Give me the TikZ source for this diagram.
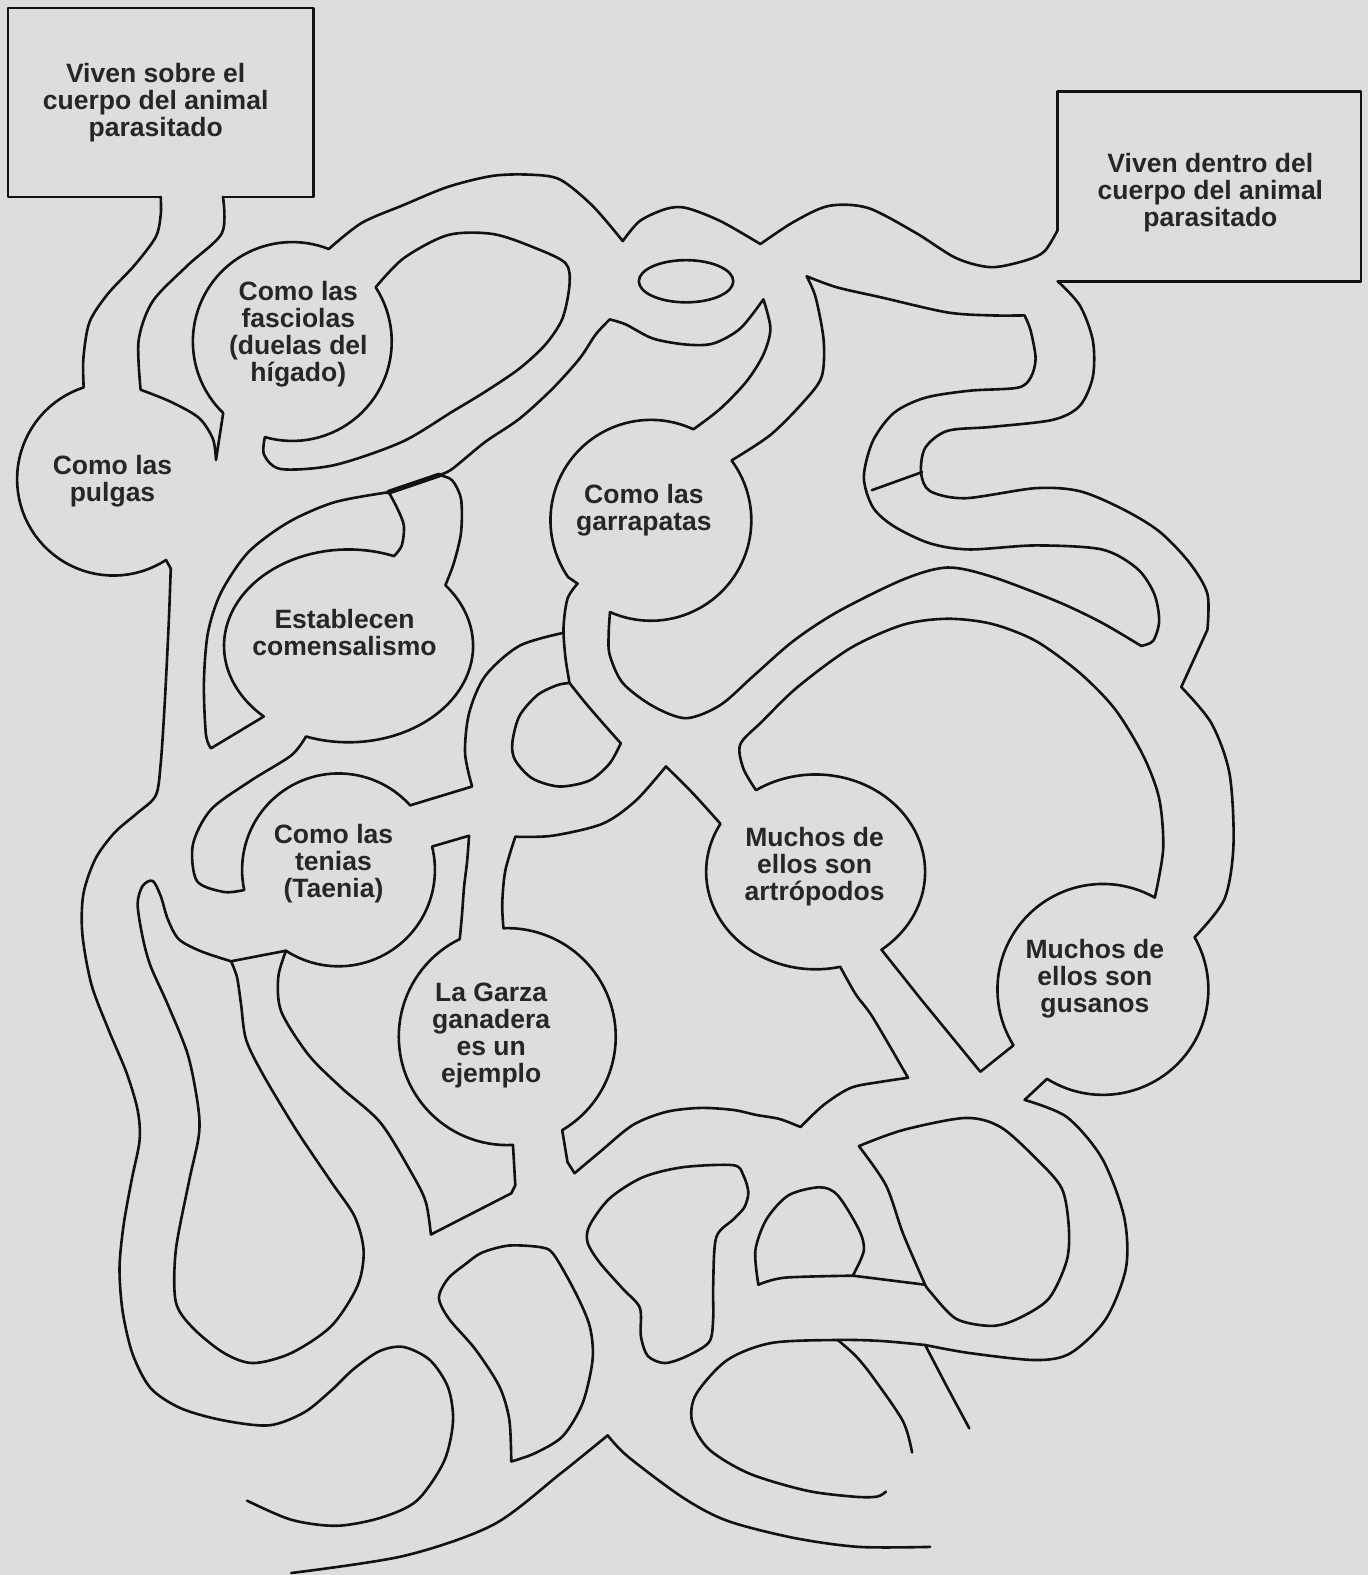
\documentclass[tikz,border=0pt]{standalone}
\usepackage{fontspec}
\setmainfont{Liberation Sans}
\usetikzlibrary{calc}
\definecolor{PaperClr}{RGB}{221,221,221}
\definecolor{InkClr}{RGB}{18,18,18}
\definecolor{TextClr}{RGB}{38,38,38}

\begin{document}
\begin{tikzpicture}[x=1pt,y=-1pt,
  wall/.style={line width=2.6pt,color=InkClr,line join=round,line cap=round},
  room/.style={font=\bfseries\fontsize{26.4}{27}\selectfont,align=center,text=TextClr,inner sep=0pt}]

\fill[PaperClr] (0,0) rectangle (1362,1568);
\useasboundingbox (0,0) rectangle (1362,1568);

\draw[wall] (160,196) -- (8,196) -- (8,8) -- (312,8) -- (312,196) -- (222,196);
\draw[wall] (1053,229) -- (1053,91) -- (1355,91) -- (1355,280) -- (1053,280);

\draw[wall] plot[smooth] coordinates {(160,196) (160,214) (155,236) (134,264) (107,293) (89,321) (83,357) (83.3,385.7)}
  -- plot[domain=252:57,samples=50,variable=\t] ({113+96*cos(\t)},{477+96*sin(\t)})
  -- (170,566)
  -- plot[smooth] coordinates {(170,566) (168,620) (164,700) (160,760) (155,792) (136,810) (114,829) (95,855) (83,890) (82,930) (91,980) (108,1025) (126,1068) (137,1105) (139,1135) (131,1175) (123,1220) (119,1262) (122,1305) (132,1348) (150,1382) (180,1402) (222,1414) (268,1419) (303,1406) (330,1384) (352,1363) (378,1345) (402,1341) (428,1354) (446,1381) (451,1415) (442,1455) (415,1494) (379,1511) (335,1519) (290,1513) (246,1494)};

\draw[wall] plot[smooth] coordinates {(222,196) (221,232) (187,264) (152,300) (138,339) (140,388)}
  -- plot[smooth] coordinates {(140,388) (170,400) (198,416) (212,437) (215,458)}
  -- (222.2,411.2)
  -- plot[domain=134:291.5,samples=50,variable=\t] ({291+99*cos(\t)},{340+99*sin(\t)})
  -- plot[smooth] coordinates {(327.3,247.9) (360,222) (402,204) (446,186) (491,175) (530,174) (558,179) (590,205) (620,240)}
  -- plot[smooth] coordinates {(620,240) (637,220) (663,208) (683,207) (717,220) (757,243)}
  -- plot[smooth] coordinates {(757,243) (790,221) (825,205) (864,207) (912,232) (952,257) (987,266) (1022,259) (1040,250) (1053,229)};

\draw[wall] plot[domain=-33:106,samples=40,variable=\t] ({291+99*cos(\t)},{340+99*sin(\t)})
  -- plot[smooth] coordinates {(263.7,435.2) (263,453) (280,467) (333,463) (400,440) (450,410) (483,390) (517,367) (543,343) (560,317) (567,283) (563,262) (533,247) (491,233) (446,234) (402,257) (374,286)};

\draw[wall] (683,280) ellipse [x radius=47, y radius=21];

\draw[wall] plot[smooth] coordinates {(690.3,427.4) (717,407) (743,380) (760,353) (767,327) (760,298)}
  -- plot[smooth] coordinates {(760,298) (737,327) (710,342) (683,343) (650,337) (623,323) (607,318)}
  -- plot[smooth] coordinates {(607,318) (593,333) (577,357) (550,387) (517,417) (483,440) (450,467) (437,473)};
\draw[wall,line width=5pt] (437,473) -- (387,490);

\draw[wall] plot[domain=295:145.6,samples=50,variable=\t] ({648+100*cos(\t)},{518+100*sin(\t)})
  -- (575,581)
  -- plot[smooth] coordinates {(575,581) (565,596) (561,625) (563,655) (567,680)}
  -- plot[smooth] coordinates {(567,680) (583,700) (602,722) (618,740)}
  -- plot[smooth] coordinates {(618,740) (607,760) (587,777) (557,783) (530,775) (513,757) (510,740) (517,713) (535,692) (555,682) (567,680)};

\draw[wall] plot[domain=-36.6:114,samples=50,variable=\t] ({648+100*cos(\t)},{518+100*sin(\t)})
  -- plot[smooth] coordinates {(607.3,609.4) (606,630) (607,652) (620,680) (650,703) (683,715) (717,702) (750,673) (790,638) (834,609) (899,577) (943,565) (987,574) (1053,599) (1097,620) (1136,643)}
  -- plot[smooth] coordinates {(1136,643) (1148,638) (1154,618) (1149,591) (1132,566) (1097,547) (1031,543) (965,547) (926,541) (890,524) (869,505) (860,475) (869,439) (890,411) (921,396) (965,389) (1013,386) (1026,376) (1031,357) (1026,329) (1020,314)}
  -- plot[smooth] coordinates {(1020,314) (987,314) (943,311) (877,296) (833,286) (803,275)}
  -- plot[smooth] coordinates {(803,275) (812,296) (820,339) (818,375) (800,400) (767,433) (728.3,458.4)};

\draw[wall] plot[smooth] coordinates {(1053,280) (1075,304) (1088,339) (1088,375) (1075,404) (1048,418) (987,425) (943,429) (921,446) (917,471) (926,489) (961,496) (1031,486) (1075,489) (1118,507) (1154,529) (1184,560) (1202,591) (1202,627)}
  -- (1176,684)
  -- plot[smooth] coordinates {(1176,684) (1206,720) (1224,770) (1228,841) (1219,895) (1189.3,933.1)}
  -- plot[domain=-29.6:122,samples=50,variable=\t] ({1098+105*cos(\t)},{985+105*sin(\t)})
  -- (1020,1095)
  -- plot[smooth] coordinates {(1020,1095) (1062,1112) (1097,1153) (1119,1211) (1121,1262) (1101,1313) (1066,1347) (1031,1354) (965,1347) (921,1339)}
  -- plot[smooth] coordinates {(921,1339) (877,1335) (834,1334) (768,1337) (724,1354) (693,1388) (689,1415) (706,1443) (746,1467) (803,1484) (850,1490) (873,1490) (882,1485)};

\draw[wall] (868,488) -- (918,470);
\draw[wall] plot[smooth] coordinates {(921,1339) (932,1360) (943,1381) (965,1422)};
\draw[wall] plot[smooth] coordinates {(834,1334) (852,1350) (869,1371) (899,1415) (908,1446)};

\draw[wall] plot[smooth] coordinates {(752.6,786.6) (740,765) (737,741) (759,718) (794,684) (847,645) (899,622) (943,616) (987,621) (1031,638) (1075,670) (1110,706) (1138,752) (1154,795) (1158,845) (1149.7,893.6)}
  -- plot[domain=299.5:148,samples=50,variable=\t] ({1098+105*cos(\t)},{985+105*sin(\t)})
  -- (976,1067) -- (917,995) -- (877.6,945.5)
  -- plot[domain=413:237,samples=60,variable=\t] ({812+109*cos(\t)},{868+97*sin(\t)});

\draw[wall] plot[domain=209.6:77,samples=50,variable=\t] ({812+109*cos(\t)},{868+97*sin(\t)})
  -- plot[smooth] coordinates {(836.5,962.5) (852,990) (869,1013) (904,1073)}
  -- plot[smooth] coordinates {(904,1073) (877,1077) (847,1083) (820,1100) (797,1122)}
  -- plot[smooth] coordinates {(797,1122) (776,1114) (753,1110) (730,1105) (697,1103) (663,1107) (630,1120) (597,1147) (572,1168)}
  -- (565,1157) -- (559.7,1125.1)
  -- plot[domain=59.6:-92,samples=50,variable=\t] ({505+108*cos(\t)},{1032+108*sin(\t)})
  -- plot[smooth] coordinates {(501.2,924.1) (500,900) (503,867) (513,833)}
  -- plot[smooth] coordinates {(513,833) (550,832) (600,820) (633,797) (663,763)}
  -- plot[smooth] coordinates {(663,763) (690,790) (717.2,820.1)};

\draw[wall] plot[domain=-14:123,samples=50,variable=\t] ({337+96*cos(\t)},{866+96*sin(\t)})
  -- plot[smooth] coordinates {(284.7,946.5) (277,973) (280,1007) (307,1050) (340,1083) (379,1118) (411,1170) (424,1197) (429,1229)}
  -- (509,1188) -- (513,1180) -- (510.7,1139.9)
  -- plot[domain=87:244,samples=50,variable=\t] ({505+108*cos(\t)},{1032+108*sin(\t)})
  -- plot[smooth] coordinates {(457.7,934.9) (460,910) (462,883) (465,858) (467,832)}
  -- (430.1,842.8);

\draw[wall] plot[smooth] coordinates {(437,473) (450,478) (459,497) (459,530) (452,560) (443.4,582.6)}
  -- plot[domain=-39:110,samples=50,variable=\t] ({347+124*cos(\t)},{643+96*sin(\t)})
  -- plot[smooth] coordinates {(304.6,733.2) (290,752) (250,777) (210,806) (192,841) (196,877) (223,888) (243.1,886)}
  -- plot[domain=168:318,samples=50,variable=\t] ({337+96*cos(\t)},{866+96*sin(\t)})
  -- (470,783)
  -- plot[smooth] coordinates {(470,783) (463,750) (467,710) (483,673) (517,643) (561,630)};

\draw[wall] plot[smooth] coordinates {(387,490) (395,505) (402,523) (400,543) (392.3,553.6)}
  -- plot[domain=291.4:132.9,samples=50,variable=\t] ({347+124*cos(\t)},{643+96*sin(\t)})
  -- (210,745)
  -- plot[smooth] coordinates {(210,745) (205,731) (203,680) (207,630) (220,590) (247,550) (287,520) (333,500) (387,490)};

\draw[wall] (284.7,946.5) -- (230,957)
  -- plot[smooth] coordinates {(230,957) (200,947) (178,935) (167,915) (160,892) (152,877) (142,882) (137,900) (142,933) (150,962) (167,1000) (187,1050) (197,1100) (198,1130) (188,1177) (175,1245) (175,1296) (192,1322) (223,1347) (252,1357) (290,1347) (330,1320) (356,1280) (362,1245) (353,1211) (330,1177) (295,1125) (262,1070) (245,1035) (240,1000) (236,973) (230,957)};

\draw[wall] plot[smooth cycle] coordinates {(730,1160) (680,1162) (640,1172) (607,1193) (587,1220) (585,1237) (597,1257) (620,1283) (637,1302) (638,1330) (645,1350) (662,1357) (684,1350) (706,1336) (710,1313) (710,1280) (713,1232) (730,1214) (741,1202) (745,1187) (740,1170)};

\draw[wall] plot[smooth] coordinates {(509,1455) (507,1413) (497,1380) (473,1343) (447,1313) (437,1292) (446,1273) (464,1258) (480,1247) (507,1240) (540,1242) (552,1250) (573,1287) (587,1320) (590,1353) (580,1397) (560,1430) (532,1447) (509,1455)};

\draw[wall] plot[smooth] coordinates {(849,1270) (860,1245) (855,1224) (834,1190) (816,1182) (785,1190) (763,1214) (752,1245) (755,1279)}
  -- plot[smooth] coordinates {(755,1279) (781,1272) (849,1270)} -- (921,1279);

\draw[wall] plot[smooth] coordinates {(855,1141) (899,1125) (961,1113) (996,1122) (1031,1153) (1057,1183) (1064,1221) (1062,1255) (1044,1293) (1013,1313) (987,1320) (952,1313) (926,1286) (921,1279)}
  -- plot[smooth] coordinates {(921,1279) (899,1228) (882,1180) (855,1141)};

\draw[wall] plot[smooth] coordinates {(290,1566) (402,1549) (491,1518) (558,1467) (605,1429)}
  -- plot[smooth] coordinates {(605,1429) (625,1450) (680,1491) (724,1514) (790,1531) (855,1540) (926,1540)};

\node[room] (sobre) at (155,102) {Viven sobre el\\cuerpo del animal\\parasitado};
\node[room] (dentro) at (1205,192) {Viven dentro del\\cuerpo del animal\\parasitado};
\node[room] (fasciolas) at (297,333) {Como las\\fasciolas\\(duelas del\\hígado)};
\node[room] (pulgas) at (112,479) {Como las\\pulgas};
\node[room] (garrapatas) at (641,508) {Como las\\garrapatas};
\node[room] (comensal) at (343,630) {Establecen\\comensalismo};
\node[room] (tenias) at (332,860) {Como las\\tenias\\(Taenia)};
\node[room] (artropodos) at (811,863) {Muchos de\\ellos son\\artrópodos};
\node[room] (garza) at (489,1031) {La Garza\\ganadera\\es un\\ejemplo};
\node[room] (gusanos) at (1090,974) {Muchos de\\ellos son\\gusanos};

\end{tikzpicture}
\end{document}
